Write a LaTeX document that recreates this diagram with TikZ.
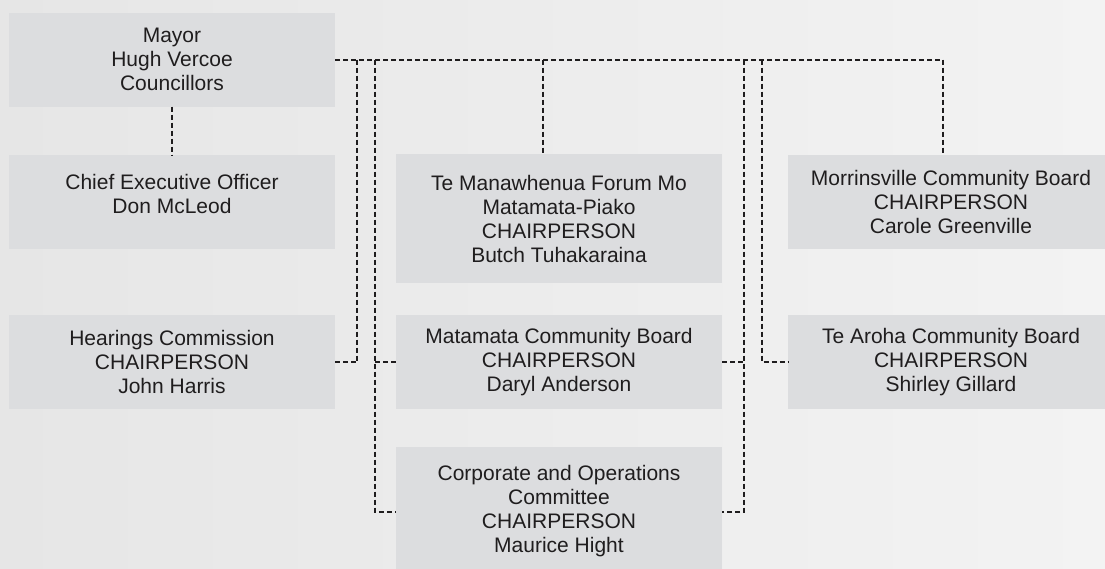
\documentclass[tikz,border=0pt]{standalone}
\usepackage{fontspec}
\setmainfont{Liberation Sans}
\definecolor{boxgray}{HTML}{DCDDDF}
\definecolor{inkgray}{HTML}{1F1D1E}
\definecolor{bgleft}{HTML}{E6E6E6}
\definecolor{bgright}{HTML}{F3F3F3}
\tikzset{
  unit/.style={fill=boxgray, text=inkgray, minimum width=326pt, minimum height=94pt,
    inner sep=0pt, align=center, font=\fontsize{21}{24}\selectfont},
  tallunit/.style={unit, minimum height=129pt},
  link/.style={draw=inkgray, line width=2pt, dash pattern=on 5pt off 3pt}
}
\begin{document}
\begin{tikzpicture}[x=1pt, y=1pt]
        % Page and background
        \useasboundingbox (0,0) rectangle (1105,-568);
        \shade[left color=bgleft, right color=bgright] (0,0) rectangle (1105,-568);
        \clip (0,0) rectangle (1105,-568);

        % Council side
        \node[unit] (mayor) at (172,-59.5) {Mayor\\Hugh Vercoe\\Councillors};
        \node[unit] (ceo) at (172,-202) {Chief Executive Officer\\Don McLeod\\[-8pt]};
        \node[unit] (hearings) at (172,-362) {Hearings Commission\\CHAIRPERSON\\John Harris};

        % Middle column
        \node[tallunit] (forum) at (559,-218.5) {Te Manawhenua Forum Mo\\Matamata-Piako\\CHAIRPERSON\\Butch Tuhakaraina};
        \node[unit] (matamata) at (559,-362) {Matamata Community Board\\CHAIRPERSON\\Daryl Anderson};
        \node[tallunit] (corporate) at (559,-511.5) {Corporate and Operations\\Committee\\CHAIRPERSON\\Maurice Hight};

        % Community boards
        \node[unit] (morrinsville) at (951,-202) {Morrinsville Community Board\\CHAIRPERSON\\Carole Greenville};
        \node[unit] (tearoha) at (951,-362) {Te Aroha Community Board\\CHAIRPERSON\\Shirley Gillard};

        % Drop points on the top line
        \coordinate (d1) at (357,-59.5);
        \coordinate (d2) at (375,-59.5);
        \coordinate (d3) at (543,-59.5);
        \coordinate (d4) at (744,-59.5);
        \coordinate (d5) at (762,-59.5);

        % Connectors
        \draw[link] (mayor.south) -- (ceo.north);
        \draw[link] (mayor.east) -| ([xshift=-8pt]morrinsville.north);
        \draw[link] (d1) |- (hearings.east);
        \draw[link] (d2) |- (corporate.west);
        \draw[link] (matamata.west) -- (matamata.west -| d2);
        \draw[link] (d3) -- (d3 |- forum.north);
        \draw[link] (d4) |- (corporate.east);
        \draw[link] (matamata.east) -- (matamata.east -| d4);
        \draw[link] (d5) |- (tearoha.west);

      \end{tikzpicture}
\end{document}
